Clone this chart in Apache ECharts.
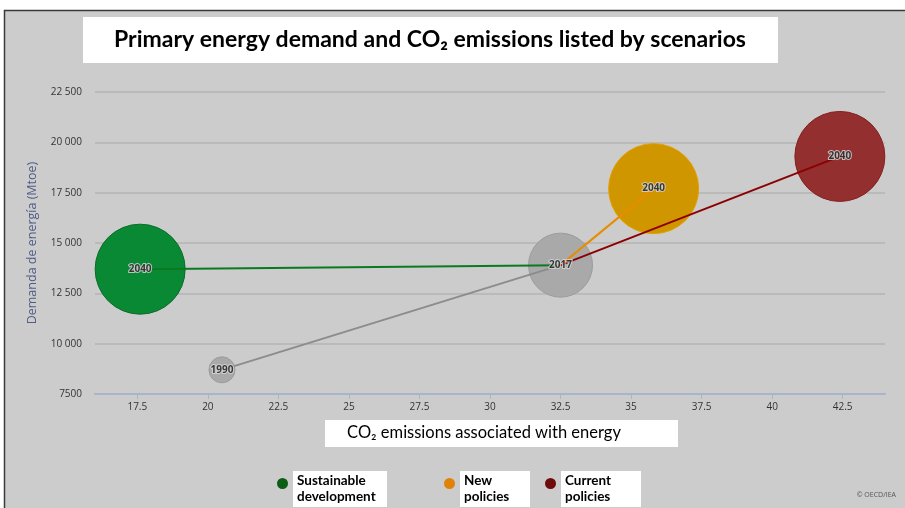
<!DOCTYPE html>
<html>
<head>
<meta charset="utf-8">
<title>Primary energy demand and CO2 emissions listed by scenarios</title>
<script src="https://cdn.jsdelivr.net/npm/echarts@6/dist/echarts.min.js"></script>
</head>
<body style="margin:0;background:#fff">
<div id="main" style="width:905px;height:508px;"></div>
<script>
// historic points (1990 -> 2017)
var histYears = ['1990', '2017'];
var histCo2 = [20.5, 32.5];
var histDemand = [8700, 13900];

// 2040 end points per scenario
var scenarios = ['Sustainable development', 'New policies', 'Current policies'];
var scenarioLabels = ['Sustainable\ndevelopment', 'New\npolicies', 'Current\npolicies'];
var co2in2040 = [17.6, 35.8, 42.4];
var demandIn2040 = [13700, 17700, 19300];

var xTicks = [17.5, 20, 22.5, 25, 27.5, 30, 32.5, 35, 37.5, 40, 42.5];

var bubbleColors = ['#0a8935', '#d09600', '#93302f'];
var bubbleBorders = ['#0a6d2a', '#e2a000', '#86201f'];
var lineColors = ['#0b7a1f', '#e88c00', '#8b0000'];
var legendColors = ['#0b5e14', '#e0820a', '#6e0b0b'];

var myChart = echarts.init(document.getElementById('main'));

var series = [];

// grey historic bubbles
series.push({
    name: 'history',
    type: 'scatter',
    z: 2,
    silent: true,
    data: histCo2.map(function (x, i) { return [x, histDemand[i]]; }),
    symbolSize: function (v, p) { return p.dataIndex === 0 ? 26 : 64; },
    itemStyle: {color: '#a9a9a9', borderColor: '#9c9c9c', borderWidth: 1, opacity: 1}
});
scenarios.forEach(function (name, i) {
    series.push({
        name: name,
        type: 'scatter',
        z: 2,
        silent: true,
        data: [[co2in2040[i], demandIn2040[i]]],
        symbolSize: 90,
        itemStyle: {color: bubbleColors[i], borderColor: bubbleBorders[i], borderWidth: 1, opacity: 1}
    });
});

// connecting lines
series.push({
    name: 'history',
    type: 'line',
    z: 3,
    silent: true,
    showSymbol: false,
    data: histCo2.map(function (x, i) { return [x, histDemand[i]]; }),
    lineStyle: {color: '#8c8c8c', width: 2}
});
scenarios.forEach(function (name, i) {
    series.push({
        name: name,
        type: 'line',
        z: 3,
        silent: true,
        showSymbol: false,
        data: [[histCo2[1], histDemand[1]], [co2in2040[i], demandIn2040[i]]],
        lineStyle: {color: lineColors[i], width: 2}
    });
});

// year labels on top of everything
var labelData = histCo2.map(function (x, i) {
    return {value: [x, histDemand[i]], name: histYears[i]};
}).concat(co2in2040.map(function (x, i) {
    return {value: [x, demandIn2040[i]], name: '2040'};
}));
series.push({
    name: 'labels',
    type: 'scatter',
    z: 4,
    silent: true,
    symbolSize: 1,
    itemStyle: {color: 'transparent'},
    data: labelData,
    label: {
        show: true,
        position: 'inside',
        formatter: '{b}',
        color: '#111',
        fontSize: 10,
        fontWeight: 'bold',
        fontFamily: 'Open Sans',
        textBorderColor: '#d8d8d8',
        textBorderWidth: 2
    }
});

var legendLefts = [277, 444, 545];
var legendWidths = [86, 62, 72];
var dotIcon = 'path://M5,0A5,5,0,1,1,4.99,0Z M5,20L5.01,20Z';

option = {
    animation: false,
    backgroundColor: '#ffffff',
    graphic: [
        {type: 'rect', z: -10, shape: {x: 4.5, y: 10.5, width: 920, height: 520},
            style: {fill: '#cccccc', stroke: '#3a3a3a', lineWidth: 1.5}},
        {type: 'rect', z: 100, shape: {x: 83, y: 17, width: 695, height: 46}, style: {fill: '#ffffff'}},
        {type: 'text', z: 101, x: 430, y: 40, style: {text: 'Primary energy demand and CO\u2082 emissions listed by scenarios',
            fill: '#000', font: 'bold 23px Lato', align: 'center', verticalAlign: 'middle'}},
        {type: 'rect', z: 100, shape: {x: 325, y: 420, width: 353, height: 27}, style: {fill: '#ffffff'}},
        {type: 'text', z: 101, x: 484, y: 433, style: {text: 'CO\u2082 emissions associated with energy',
            fill: '#000', font: '16.5px Lato', align: 'center', verticalAlign: 'middle'}},
        {type: 'text', z: 101, x: 896, y: 495, style: {text: '\u00a9 OECD/IEA',
            fill: '#555', font: '7px Open Sans', align: 'right', verticalAlign: 'middle'}}
    ],
    legend: scenarios.map(function (name, i) {
        return {
            left: legendLefts[i],
            top: 471,
            padding: 0,
            itemWidth: 11,
            itemHeight: 22,
            itemGap: 0,
            selectedMode: false,
            data: [{name: name, icon: dotIcon, itemStyle: {color: legendColors[i], borderWidth: 0}}],
            formatter: function (n) { return scenarioLabels[scenarios.indexOf(n)]; },
            textStyle: {
                color: '#000', fontFamily: 'Lato', fontWeight: 'bold', fontSize: 13.5, lineHeight: 16,
                backgroundColor: '#ffffff', padding: [2, 4, 2, 4], width: legendWidths[i]
            }
        };
    }),
    grid: {left: 95, right: 20, top: 92, bottom: 114},
    xAxis: {
        type: 'value',
        min: 16,
        max: 44,
        axisLine: {lineStyle: {color: '#aab3cd', width: 2}},
        axisTick: {show: true, customValues: xTicks, length: 5, lineStyle: {color: '#aab3cd'}},
        axisLabel: {customValues: xTicks, color: '#333', fontSize: 10, fontFamily: 'Open Sans', margin: 8},
        splitLine: {show: false}
    },
    yAxis: {
        type: 'value',
        min: 7500,
        max: 22500,
        interval: 2500,
        name: 'Demanda de energía (Mtoe)',
        nameLocation: 'middle',
        nameGap: 56,
        nameTextStyle: {color: '#4f5d86', fontSize: 12.5, fontFamily: 'Open Sans'},
        axisLine: {show: false},
        axisTick: {show: false},
        axisLabel: {
            color: '#333', fontSize: 10, fontFamily: 'Open Sans', margin: 13,
            formatter: function (v) { return v >= 10000 ? String(v).replace(/(\d{3})$/, ' $1') : String(v); }
        },
        splitLine: {lineStyle: {color: '#b5b5b5', width: 1.5}}
    },
    series: series
};
myChart.setOption(option);
</script>
</body>
</html>
